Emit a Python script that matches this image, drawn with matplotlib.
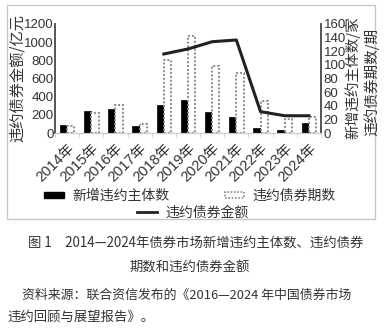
import matplotlib
matplotlib.use("Agg")
import matplotlib.pyplot as plt
import numpy as np
from matplotlib.patches import Rectangle, Patch
from matplotlib.lines import Line2D

plt.rcParams['font.family'] = ['Liberation Sans', 'Noto Sans CJK SC', 'DejaVu Sans']

years = ["2014年", "2015年", "2016年", "2017年", "2018年", "2019年",
         "2020年", "2021年", "2022年", "2023年", "2024年"]
new_issuers = [12, 32, 35, 10, 41, 49, 31, 24, 8, 5, 14]
default_bonds = [10, 29, 41, 13, 107, 142, 98, 88, 47, 20, 24]
amount_years = ["2018年", "2019年", "2020年", "2021年", "2022年", "2023年", "2024年"]
amounts = [870, 925, 1005, 1024, 235, 190, 190]

W, H = 392, 331
fig = plt.figure(figsize=(W / 100, H / 100), dpi=100)

# outer frame
fig.patches.append(Rectangle((7 / W, 1 - 219 / H), (375 - 7) / W, (219 - 5) / H,
                             transform=fig.transFigure, fill=False,
                             edgecolor="#c8c8c8", linewidth=1.0))

ax = fig.add_axes([55 / W, 1 - 133 / H, (321 - 55) / W, (133 - 24) / H])
ax2 = ax.twinx()

x = np.arange(len(years))
bw = 0.3
ax2.bar(x - bw / 2, new_issuers, width=bw, color="black", edgecolor="black", linewidth=0.5)
ax2.bar(x + bw / 2, default_bonds, width=bw, color="white", edgecolor="#8a8a8a",
        linewidth=1.4, linestyle=(0, (1, 1)))
ax2.set_ylim(0, 160)
ax2.set_yticks(range(0, 161, 20))

xa = [years.index(y) for y in amount_years]
ax.plot(xa, amounts, color="#222222", linewidth=2.2, zorder=5)
ax.set_zorder(ax2.get_zorder() + 1)
ax.patch.set_visible(False)
ax.set_ylim(0, 1200)
ax.set_yticks(range(0, 1201, 200))
ax.set_xlim(-0.5, len(years) - 0.5)
ax.set_xticks(x)
ax.set_xticklabels(years, rotation=45, ha="right", rotation_mode="anchor",
                   fontsize=10.5, color="#333333", family=['Liberation Sans', 'Noto Sans CJK SC'])
ax.set_xticks(np.arange(-0.5, len(years), 1), minor=True)
ax.tick_params(axis="x", which="major", length=0, pad=6)
ax.tick_params(axis="x", which="minor", length=3, color="#cccccc")
ax.tick_params(axis="y", length=0, labelsize=9.5, labelcolor="#333333", pad=1)
ax2.tick_params(axis="y", length=0, labelsize=9.5, labelcolor="#333333", pad=2)

for a in (ax, ax2):
    a.spines["top"].set_visible(False)
    a.spines["bottom"].set_color("#cccccc")
    a.spines["left"].set_color("#555555")
    a.spines["right"].set_color("#555555")
    a.spines["left"].set_linewidth(1.2)
    a.spines["right"].set_linewidth(1.2)

cjk = ['Noto Sans CJK SC', 'DejaVu Sans']
fig.text(17 / W, 1 - 78 / H, "违约债券金额/亿元", rotation=90, ha="center", va="center",
         fontsize=11, color="#333333", family=cjk)
fig.text(353 / W, 1 - 78 / H, "新增违约主体数/家", rotation=90, ha="center", va="center",
         fontsize=10.5, color="#333333", family=cjk)
fig.text(372 / W, 1 - 82 / H, "违约债券期数/期", rotation=90, ha="center", va="center",
         fontsize=10.5, color="#333333", family=cjk)

handles = [Patch(facecolor="black", edgecolor="black"),
           Patch(facecolor="white", edgecolor="#8a8a8a", linestyle=(0, (1, 1)), linewidth=1.2),
           Line2D([0], [0], color="#222222", linewidth=2)]
labels = ["新增违约主体数", "违约债券期数", "违约债券金额"]
leg = fig.legend(handles[:2], labels[:2], loc="center", bbox_to_anchor=(190 / W, 1 - 196 / H),
                 ncol=2, frameon=False, handlelength=1.4, handleheight=0.35,
                 columnspacing=4.0, handletextpad=0.6, prop={'family': cjk, 'size': 10})
for t in leg.get_texts():
    t.set_color("#333333")
leg2 = fig.legend(handles[2:], labels[2:], loc="center", bbox_to_anchor=(193 / W, 1 - 213 / H),
                  frameon=False, handlelength=1.4, handletextpad=0.6,
                  prop={'family': cjk, 'size': 10})
for t in leg2.get_texts():
    t.set_color("#333333")

fig.text(196 / W, 1 - 244 / H, "图 1　2014—2024年债券市场新增违约主体数、违约债券",
         ha="center", va="center", fontsize=9.6, color="#333333", family=cjk)
fig.text(190 / W, 1 - 268 / H, "期数和违约债券金额",
         ha="center", va="center", fontsize=9.6, color="#333333", family=cjk)
fig.text(22 / W, 1 - 295 / H, "资料来源：联合资信发布的《2016—2024 年中国债券市场",
         ha="left", va="center", fontsize=9.3, color="#333333", family=cjk)
fig.text(7 / W, 1 - 317 / H, "违约回顾与展望报告》。",
         ha="left", va="center", fontsize=9.6, color="#333333", family=cjk)

fig.savefig("out.png", dpi=100)
